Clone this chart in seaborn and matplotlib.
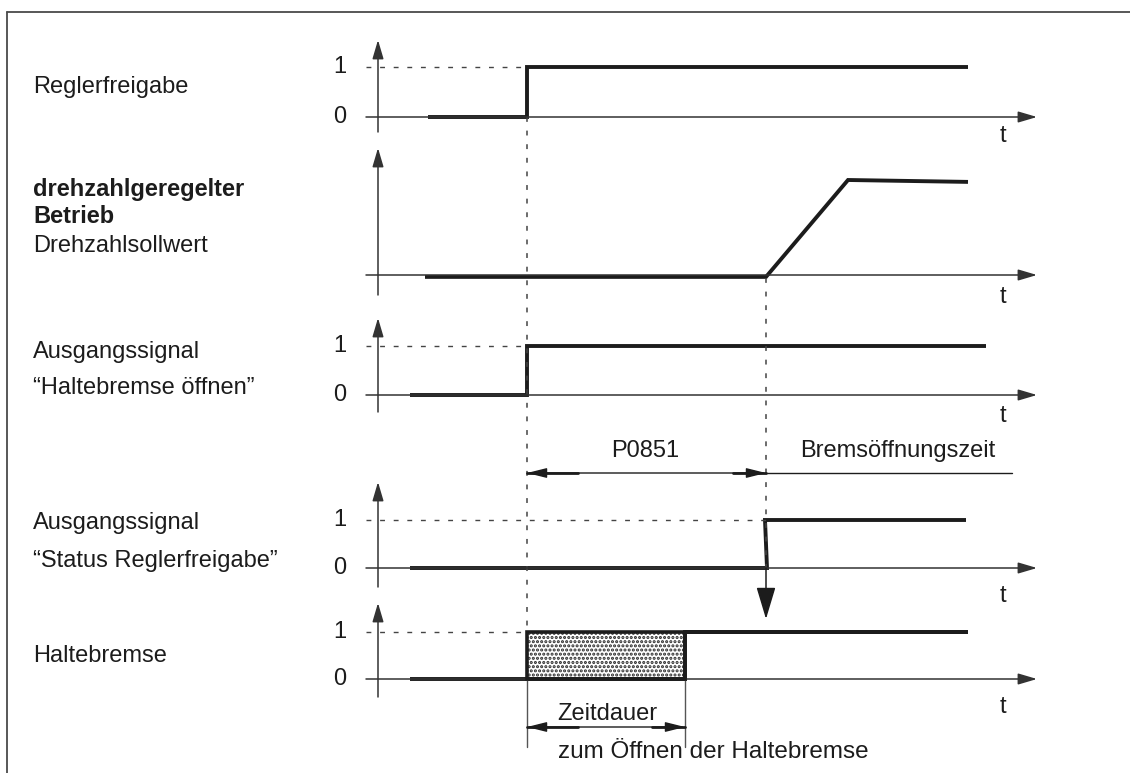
import numpy as np
import pandas as pd
import seaborn as sns
import matplotlib.pyplot as plt
from matplotlib.patches import Rectangle

# ---- data: time in units of 10 px, origin on the level axis ----
t_enable = 14.9        # Reglerfreigabe
t_brake_open = 30.7    # Haltebremse tatsaechlich offen
t_p0851 = 38.8         # Ende P0851 (Bremsoeffnungszeit)
t_bremszeit_end = 63.4

reglerfreigabe_t = [5.0, 14.9, 14.9, 59.0]
reglerfreigabe_v = [0, 0, 1, 1]

sollwert_t = [4.7, 38.8, 47.0, 59.0]
sollwert_v = [-0.02, -0.02, 1.0, 0.98]

bremse_oeffnen_t = [3.2, 14.9, 14.9, 60.8]
bremse_oeffnen_v = [0, 0, 1, 1]

status_t = [3.2, 38.9, 38.7, 58.8]
status_v = [0, 0, 1, 1]

haltebremse_t = [3.2, 30.7, 30.7, 59.0]
haltebremse_v = [0, 0, 1, 1]

level_ticks = ["0", "1"]

row_labels = [
    [("Reglerfreigabe", "normal")],
    [("drehzahlgeregelter", "bold"), ("Betrieb", "bold"), ("Drehzahlsollwert", "normal")],
    [("Ausgangssignal", "normal"), ("\u201cHaltebremse öffnen\u201d", "normal")],
    [("Ausgangssignal", "normal"), ("\u201cStatus Reglerfreigabe\u201d", "normal")],
    [("Haltebremse", "normal")],
]

# ---- layout of the five rows (pixel rows from top) ----
rows = [
    dict(base=117, top=67, tip=40, bottom=132, tlab=136, lab=[93], ticks=True),
    dict(base=275, top=180, tip=148, bottom=295, tlab=297, lab=[196, 223, 252], ticks=False),
    dict(base=395, top=346, tip=318, bottom=412, tlab=416, lab=[358, 394], ticks=True),
    dict(base=568, top=520, tip=482, bottom=587, tlab=596, lab=[529, 567], ticks=True),
    dict(base=679, top=632, tip=603, bottom=697, tlab=707, lab=[662], ticks=True),
]
signals = [
    (reglerfreigabe_t, reglerfreigabe_v),
    (sollwert_t, sollwert_v),
    (bremse_oeffnen_t, bremse_oeffnen_v),
    (status_t, status_v),
    (haltebremse_t, haltebremse_v),
]


def tx(px):
    return (px - 378) / 10


def ylev(row, v):
    return row["base"] - np.asarray(v, dtype=float) * (row["base"] - row["top"])


sns.set_theme(style="white")
plt.rcParams["font.family"] = ["Liberation Sans", "DejaVu Sans"]
plt.rcParams["lines.scale_dashes"] = False
plt.rcParams["hatch.linewidth"] = 1.5

INK = "#1c1c1c"
AXC = "#333333"
FS = 17

fig = plt.figure(figsize=(11.3, 7.73), dpi=100)
ax = fig.add_axes([0, 0, 1, 1])

arrow_kw = dict(arrowstyle="-|>,head_length=1.15,head_width=0.34", mutation_scale=10,
                lw=1.1, color=AXC, shrinkA=0, shrinkB=0)
dash = (0, (3.5, 6.3))

for row, (st, sv), labels in zip(rows, signals, row_labels):
    # time axis and level axis
    ax.annotate("", xy=(tx(1037), row["base"]), xytext=(tx(366), row["base"]), arrowprops=arrow_kw)
    ax.annotate("", xy=(0, row["tip"]), xytext=(0, row["bottom"]), arrowprops=arrow_kw)
    ax.text(tx(1003), row["tlab"], "t", fontsize=FS, ha="center", va="center", color=INK)
    if row["ticks"]:
        for lv, lab in zip([0, 1], level_ticks):
            ax.text(tx(340), ylev(row, lv), lab, fontsize=FS, ha="center", va="center", color=INK)
    for (txt, wt), yb in zip(labels, row["lab"]):
        ax.text(tx(33), yb, txt, fontsize=FS, fontweight=wt, ha="left", va="baseline", color=INK)

    df = pd.DataFrame({"t": st, "y": ylev(row, sv)})
    sns.lineplot(data=df, x="t", y="y", ax=ax, sort=False, estimator=None, color=INK,
                 lw=2.8, solid_capstyle="butt", solid_joinstyle="miter")

# dashed "1" reference lines up to the rising edge
for row, t_edge in [(rows[0], t_enable), (rows[2], t_enable), (rows[3], t_p0851), (rows[4], t_enable)]:
    ax.plot([tx(366), t_edge], [row["top"]] * 2, color="#444444", lw=1.0, ls=dash)

# vertical dashed time markers
ax.plot([t_enable, t_enable], [rows[0]["base"], rows[4]["top"]], color="#444444", lw=1.1, ls=dash)
ax.plot([t_p0851, t_p0851], [rows[1]["base"] + 3, rows[3]["base"]], color="#444444", lw=1.1, ls=dash)

# big arrow: Status Reglerfreigabe -> Haltebremse
ax.annotate("", xy=(t_p0851, 619), xytext=(t_p0851, rows[3]["base"]),
            arrowprops=dict(arrowstyle="-|>,head_length=2.0,head_width=0.6", mutation_scale=10,
                            lw=1.1, color=INK, shrinkA=0, shrinkB=0))

# hatched opening period of the holding brake
r5 = rows[4]
ax.add_patch(Rectangle((t_enable, r5["top"]), t_brake_open - t_enable, r5["base"] - r5["top"],
                       facecolor="white", edgecolor="#2a2a2a", hatch="....", lw=0, zorder=1))
ax.add_patch(Rectangle((t_enable, r5["top"]), t_brake_open - t_enable, r5["base"] - r5["top"],
                       facecolor="none", edgecolor=INK, lw=2.6, zorder=3))
ax.plot([t_brake_open, 59.0], [r5["top"]] * 2, color=INK, lw=2.8, solid_capstyle="butt")

# extension lines below the brake row
for t in [t_enable, t_brake_open]:
    ax.plot([t, t], [r5["base"], 747], color="#555555", lw=1.0)

# P0851 / Bremsoeffnungszeit dimension
y_p = 473
dim_kw = dict(arrowstyle="<|-|>,head_length=1.2,head_width=0.3", mutation_scale=10,
              lw=1.0, color=INK, shrinkA=0, shrinkB=0)
ax.annotate("", xy=(t_p0851, y_p), xytext=(t_enable, y_p), arrowprops=dim_kw)
ax.plot([t_enable, t_enable + 5.1], [y_p, y_p], color=INK, lw=2.0)
ax.plot([t_p0851 - 3.3, t_p0851], [y_p, y_p], color=INK, lw=2.0)
ax.plot([t_p0851, t_bremszeit_end], [y_p, y_p], color=INK, lw=1.0)
ax.text(tx(645), 451, "P0851", fontsize=FS, ha="center", va="center", color=INK)
ax.text(tx(898), 451, "Bremsöffnungszeit", fontsize=FS, ha="center", va="center", color=INK)

# Zeitdauer dimension
y_z = 727
ax.annotate("", xy=(t_brake_open, y_z), xytext=(t_enable, y_z), arrowprops=dim_kw)
ax.plot([t_enable, t_enable + 5.1], [y_z, y_z], color=INK, lw=2.0)
ax.plot([t_brake_open - 3.3, t_brake_open], [y_z, y_z], color=INK, lw=2.0)
ax.text(tx(607), 714, "Zeitdauer", fontsize=FS, ha="center", va="center", color=INK)
ax.text(tx(558), 752, "zum Öffnen der Haltebremse", fontsize=17.5, ha="left", va="center", color=INK)

# frame (top and left edge)
ax.plot([tx(7), tx(1130)], [12, 12], color="#4a4a4a", lw=1.3)
ax.plot([tx(7), tx(7)], [12, 773], color="#4a4a4a", lw=1.3)

ax.set_xlim(tx(0), tx(1130))
ax.set_ylim(773, 0)
ax.axis("off")

fig.savefig("out.png", dpi=100)
